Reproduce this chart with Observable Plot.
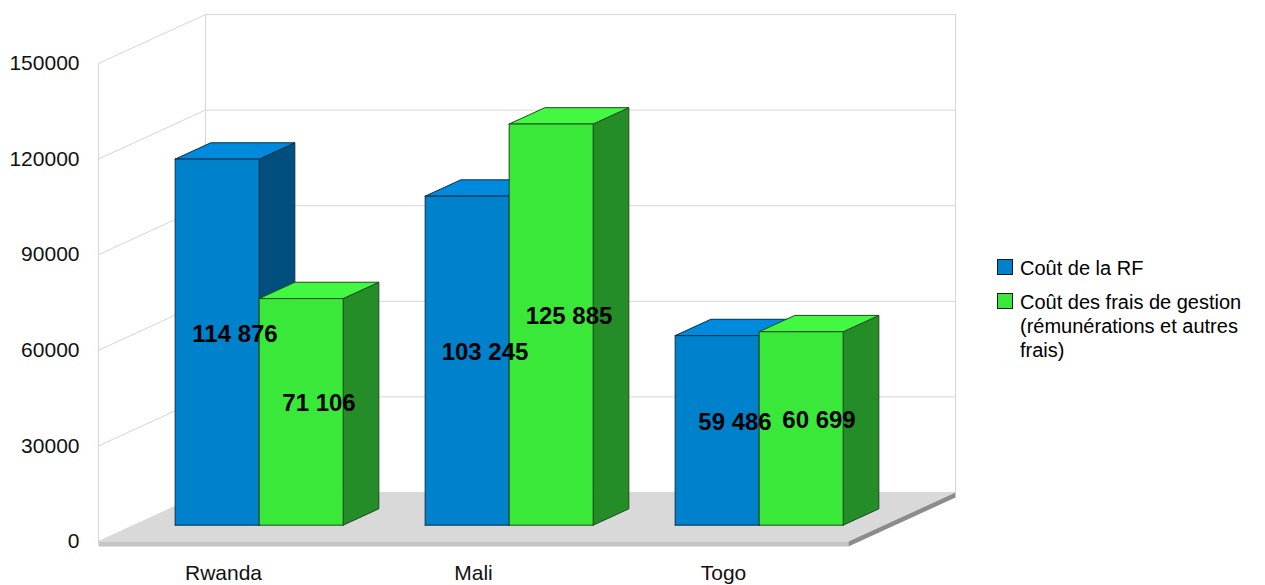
<!DOCTYPE html>
<html>
<head>
<meta charset="utf-8">
<script src="https://cdn.jsdelivr.net/npm/d3@7"></script>
<script src="https://cdn.jsdelivr.net/npm/@observablehq/plot@0.6"></script>
<style>
  body { margin: 0; background: #fff; font-family: "Liberation Sans", Arial, sans-serif; }
  #wrap { position: relative; width: 1265px; height: 585px; overflow: hidden; }
  #chart { position: absolute; left: 0; top: 0; }
  .lg-item { position: absolute; left: 997px; font-size: 20px; color: #000; line-height: 24px; }
  .lg-sw { position: absolute; left: 0; width: 14px; height: 14px; border: 1px solid #1a1a1a; }
  .lg-tx { position: absolute; left: 23px; white-space: nowrap; }
</style>
</head>
<body>
<div id="wrap">
  <div id="chart"></div>
  <div id="legend"></div>
</div>
<script>
// ---- data ----
const categories = ["Rwanda", "Mali", "Togo"];
const seriesNames = ["Coût de la RF", "Coût des frais de gestion (rémunérations et autres frais)"];
const legendLines = [["Coût de la RF"], ["Coût des frais de gestion", "(rémunérations et autres", "frais)"]];
const coutRF = [114876, 103245, 59486];
const coutGestion = [71106, 125885, 60699];
const yTicks = [0, 30000, 60000, 90000, 120000, 150000];

// ---- styles ----
const palette = [
  { front: "#0081cc", top: "#008add", side: "#004f7e", edge: "#0b2f47" },
  { front: "#3ae83a", top: "#42f842", side: "#258d27", edge: "#1d4a1d" }
];
const X_RANGE = [98, 848], Y_RANGE = [541, 63];
const X_DOMAIN = [-0.5, 2.5], Y_DOMAIN = [0, 150000];
const DEPTH_PX = [107, 49];
const pxPerX = (X_RANGE[1] - X_RANGE[0]) / (X_DOMAIN[1] - X_DOMAIN[0]);
const pxPerY = (Y_RANGE[0] - Y_RANGE[1]) / (Y_DOMAIN[1] - Y_DOMAIN[0]);
const DX = DEPTH_PX[0] / pxPerX;      // depth offset in x units
const DY = DEPTH_PX[1] / pxPerY;      // depth offset in value units
const BAR_W = 84 / pxPerX;
const FLOOR_T = 5 / pxPerY;
const D_FRONT = 1 / 3, D_BACK = 2 / 3;

const P = (x, v, d) => ({ x: x + d * DX, y: v + d * DY });

// polygons
const polys = [];
let pid = 0;
function addPoly(pts, fill, stroke) {
  const id = pid++;
  [...pts, pts[0]].forEach(([x, v, d]) => polys.push({ id, ...P(x, v, d), fill, stroke }));
}

// floor slab
const [xa, xb] = X_DOMAIN;
addPoly([[xa, 0, 0], [xb, 0, 0], [xb, 0, 1], [xa, 0, 1]], "#d9d9d9", "none");
addPoly([[xa, 0, 0], [xb, 0, 0], [xb, -FLOOR_T, 0], [xa, -FLOOR_T, 0]], "#c4c4c4", "none");
addPoly([[xb, 0, 0], [xb, 0, 1], [xb, -FLOOR_T, 1], [xb, -FLOOR_T, 0]], "#8c8c8c", "none");

// bars
const seriesValues = [coutRF, coutGestion];
const labels = [];
const fmt = d3.formatLocale({ thousands: " ", grouping: [3], decimal: "," }).format(",d");
categories.forEach((c, i) => {
  seriesValues.forEach((vals, s) => {
    const v = vals[i];
    const x0 = i - BAR_W + s * BAR_W, x1 = x0 + BAR_W;
    const col = palette[s];
    addPoly([[x1, 0, D_FRONT], [x1, v, D_FRONT], [x1, v, D_BACK], [x1, 0, D_BACK]], col.side, col.edge);
    addPoly([[x0, v, D_FRONT], [x1, v, D_FRONT], [x1, v, D_BACK], [x0, v, D_BACK]], col.top, col.edge);
    addPoly([[x0, 0, D_FRONT], [x1, 0, D_FRONT], [x1, v, D_FRONT], [x0, v, D_FRONT]], col.front, col.edge);
    labels.push({ ...P((x0 + x1) / 2, v / 2, 0.5), text: fmt(v) });
  });
});

// wall lines
const wall = [];
let wid = 0;
function addLine(a, b) { const id = wid++; wall.push({ id, ...P(...a) }, { id, ...P(...b) }); }
yTicks.forEach(t => {
  addLine([xa, t, 1], [xb, t, 1]);
  addLine([xa, t, 0], [xa, t, 1]);
});
addLine([xa, 0, 0], [xa, Y_DOMAIN[1], 0]);
addLine([xa, 0, 1], [xa, Y_DOMAIN[1], 1]);
addLine([xb, 0, 1], [xb, Y_DOMAIN[1], 1]);

const tickData = yTicks.map(t => ({ x: xa, y: t, text: d3.format("d")(t) }));
const catData = categories.map((c, i) => ({ x: i, y: 0, text: c }));

const chart = Plot.plot({
  width: 990,
  height: 585,
  margin: 0,
  style: { background: "#fff", fontFamily: "'Liberation Sans', Arial, sans-serif" },
  x: { type: "linear", domain: X_DOMAIN, range: X_RANGE, axis: null },
  y: { type: "linear", domain: Y_DOMAIN, range: Y_RANGE, axis: null },
  color: { type: "identity" },
  marks: [
    Plot.line(wall, { x: "x", y: "y", z: "id", stroke: "#d6d6d6", strokeWidth: 1 }),
    Plot.line(polys, { x: "x", y: "y", z: "id", fill: "fill", stroke: "stroke", strokeWidth: 1, strokeLinejoin: "miter" }),
    Plot.text(labels, { x: "x", y: "y", text: "text", fontSize: 24, fontWeight: "bold", fill: "#000" }),
    Plot.text(tickData, { x: "x", y: "y", text: "text", textAnchor: "end", dx: -19, fontSize: 21, fill: "#111" }),
    Plot.text(catData, { x: "x", y: "y", text: "text", dy: 32, fontSize: 21, fill: "#111" })
  ]
});
document.getElementById("chart").appendChild(chart);

// legend
const legend = document.getElementById("legend");
const legendTops = [256, 290];
legendLines.forEach((lines, s) => {
  const item = document.createElement("div");
  item.className = "lg-item";
  item.style.top = legendTops[s] + "px";
  const sw = document.createElement("div");
  sw.className = "lg-sw";
  sw.style.background = palette[s].front;
  sw.style.top = "3px";
  const tx = document.createElement("div");
  tx.className = "lg-tx";
  tx.innerHTML = lines.join("<br>");
  tx.title = seriesNames[s];
  item.appendChild(sw);
  item.appendChild(tx);
  legend.appendChild(item);
});
</script>
</body>
</html>
